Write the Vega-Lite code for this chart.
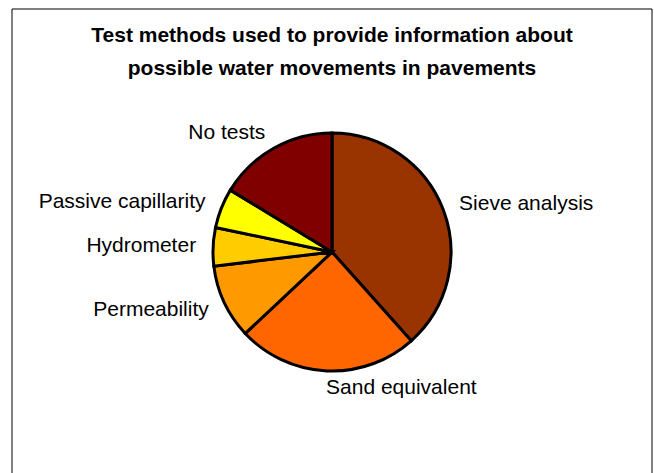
{
  "$schema": "https://vega.github.io/schema/vega-lite/v6.json",
  "width": 640,
  "height": 486,
  "autosize": "none",
  "padding": {"left": 12, "top": 9, "right": 2, "bottom": -22},
  "background": "white",
  "title": {
    "text": ["Test methods used to provide information about", "possible water movements in pavements"],
    "font": "Liberation Sans",
    "fontSize": 21,
    "fontWeight": "bold",
    "color": "black",
    "anchor": "middle",
    "frame": "group",
    "baseline": "alphabetic",
    "lineHeight": 33,
    "offset": -87.5
  },
  "data": {
    "values": [
      {"i": 1, "method": "Sieve analysis", "share": 38.4},
      {"i": 2, "method": "Sand equivalent", "share": 24.6},
      {"i": 3, "method": "Permeability", "share": 10.1},
      {"i": 4, "method": "Hydrometer", "share": 5.2},
      {"i": 5, "method": "Passive capillarity", "share": 5.4},
      {"i": 6, "method": "No tests", "share": 16.3}
    ]
  },
  "layer": [
    {
      "data": {"values": [{"frame": "chart area"}]},
      "mark": {"type": "rect", "fill": "white", "stroke": "black", "strokeWidth": 1},
      "encoding": {}
    },
    {
      "mark": {"type": "arc", "outerRadius": 119, "stroke": "black", "strokeWidth": 3},
      "encoding": {
        "theta": {"field": "share", "type": "quantitative", "stack": true},
        "order": {"field": "i", "type": "quantitative"},
        "color": {
          "field": "method",
          "type": "nominal",
          "scale": {
            "domain": ["Sieve analysis", "Sand equivalent", "Permeability", "Hydrometer", "Passive capillarity", "No tests"],
            "range": ["#993300", "#FF6600", "#FF9900", "#FFCC00", "#FFFF00", "#800000"]
          },
          "legend": null
        }
      }
    },
    {
      "mark": {
        "type": "text",
        "radius": 136,
        "font": "Liberation Sans",
        "fontSize": 21,
        "color": "black",
        "baseline": "middle",
        "align": {"expr": "datum.method === 'Sieve analysis' || datum.method === 'Sand equivalent' ? 'left' : 'right'"}
      },
      "encoding": {
        "theta": {"field": "share", "type": "quantitative", "stack": true},
        "order": {"field": "i", "type": "quantitative"},
        "text": {"field": "method"},
        "detail": {"field": "method"}
      }
    }
  ],
  "config": {"view": {"stroke": null}}
}
